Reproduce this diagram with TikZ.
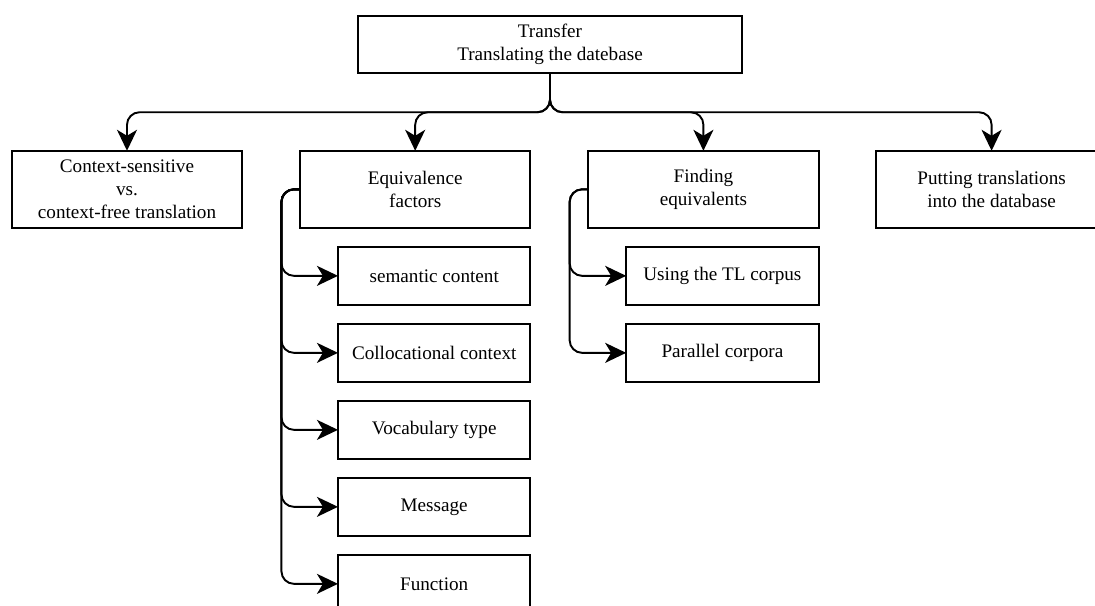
\documentclass[tikz,border=0pt]{standalone}
\usepackage{fontspec}
\setmainfont{Liberation Serif}
\usetikzlibrary{arrows.meta,positioning}

\begin{document}
\begin{tikzpicture}[
    box/.style={rectangle, draw=black, line width=1.1pt, outer sep=0pt, inner sep=2pt, align=center, font=\fontsize{10.9}{13.2}\selectfont},
    topbox/.style={box, minimum width=7.69cm, minimum height=1.15cm},
    catbox/.style={box, minimum width=4.61cm, minimum height=1.54cm},
    subbox/.style={box, minimum width=3.85cm, minimum height=1.15cm},
    tip/.tip={Stealth[length=0.42cm, width=0.4cm, inset=0.12cm, sharp]},
    arr/.style={-tip, line width=1.1pt, rounded corners=0.25cm},
    node distance=0.39cm
]
    \useasboundingbox (0,0) rectangle (21.9,-12.12);

    % Root node
    \node[topbox] (transfer) at (11.0,-0.89) {Transfer\\Translating the datebase};

    % Categories in a row
    \node[catbox]                          (ctx)     at (2.54,-3.786) {Context-sensitive\\vs.\\context-free translation};
    \node[catbox, right=1.154cm of ctx]    (equiv)   {Equivalence\\factors};
    \node[catbox, right=1.154cm of equiv]  (finding) {Finding\\equivalents};
    \node[catbox, right=1.154cm of finding] (putting) {Putting translations\\into the database};

    % Equivalence factors, stacked below
    \node[subbox, below left=0.386cm and 0cm of equiv.south east] (semantic) {semantic content};
    \node[subbox, below=of semantic]  (colloc)   {Collocational context};
    \node[subbox, below=of colloc]    (vocab)    {Vocabulary type};
    \node[subbox, below=of vocab]     (message)  {Message};
    \node[subbox, below=of message]   (function) {Function};

    % Ways of finding equivalents
    \node[subbox, below left=0.386cm and 0cm of finding.south east] (tlcorpus) {Using the TL corpus};
    \node[subbox, below=of tlcorpus]  (parallel) {Parallel corpora};

    % Root to categories
    \draw[arr] (transfer.south) -- ++(0,-0.78) -| (ctx.north);
    \draw[arr] (transfer.south) -- ++(0,-0.78) -| (equiv.north);
    \draw[arr] (transfer.south) -- ++(0,-0.78) -| (finding.north);
    \draw[arr] (transfer.south) -- ++(0,-0.78) -| (putting.north);

    % Equivalence factors bracket
    \draw[arr] (equiv.west) -- ++(-0.37,0) |- (semantic.west);
    \draw[arr] (equiv.west) -- ++(-0.37,0) |- (colloc.west);
    \draw[arr] (equiv.west) -- ++(-0.37,0) |- (vocab.west);
    \draw[arr] (equiv.west) -- ++(-0.37,0) |- (message.west);
    \draw[arr] (equiv.west) -- ++(-0.37,0) |- (function.west);

    % Finding equivalents bracket
    \draw[arr] (finding.west) -- ++(-0.37,0) |- (tlcorpus.west);
    \draw[arr] (finding.west) -- ++(-0.37,0) |- (parallel.west);

\end{tikzpicture}
\end{document}
